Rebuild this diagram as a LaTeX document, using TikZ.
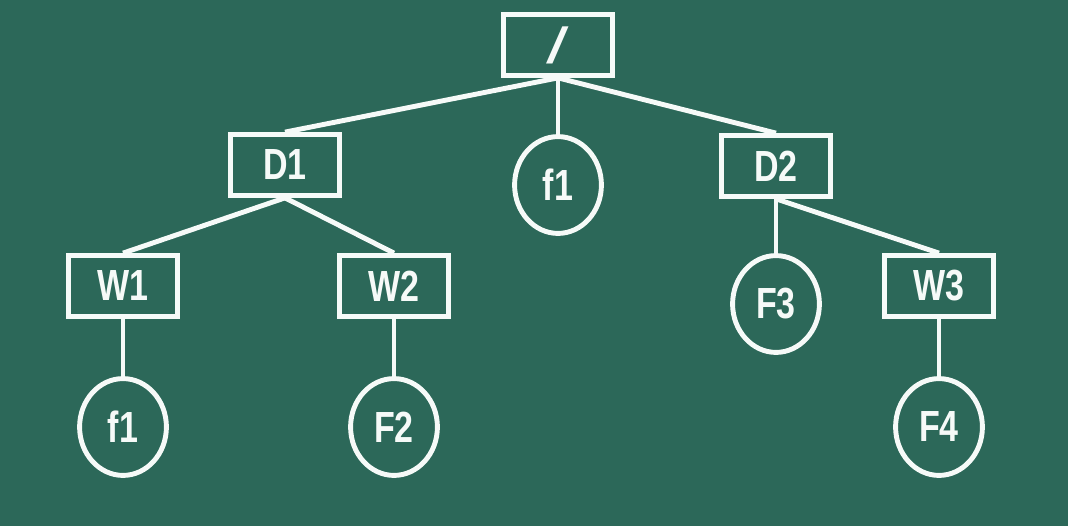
\documentclass[tikz,border=0pt]{standalone}
\usepackage{fontspec}
\setmainfont[FakeStretch=0.78]{Liberation Sans}
\usetikzlibrary{shapes.geometric}
\definecolor{board}{RGB}{44,104,89}
\definecolor{chalk}{RGB}{246,250,248}
\tikzset{
  dirbox/.style={draw=chalk, line width=3.5pt, rectangle, minimum width=2.72cm, minimum height=1.52cm, inner sep=0pt, text=chalk, font=\fontsize{31}{32}\selectfont\bfseries},
  filenode/.style={draw=chalk, line width=3.5pt, ellipse, minimum width=2.17cm, minimum height=2.42cm, inner sep=0pt, text=chalk, font=\fontsize{31}{32}\selectfont\bfseries},
  link/.style={draw=chalk, line width=3.5pt}
}
\begin{document}
\begin{tikzpicture}[x=0.025cm, y=-0.025cm]
        \fill[board] (0,0) rectangle (1068,526);
        \useasboundingbox (0,0) rectangle (1068,526);

        \node[dirbox] (root) at (558,45) {\addfontfeatures{FakeStretch=1.6}\mdseries\fontsize{36}{36}\selectfont /};
        \node[dirbox] (D1) at (285,165) {D1};
        \node[filenode] (f1a) at (558,185) {f1};
        \node[dirbox] (D2) at (776,166) {D2};

        \node[dirbox] (W1) at (123,286) {W1};
        \node[dirbox] (W2) at (394,286) {W2};
        \node[filenode] (F3) at (776,304) {F3};
        \node[dirbox] (W3) at (939,286) {W3};

        \node[filenode] (f1b) at (123,427) {f1};
        \node[filenode] (F2) at (394,427) {F2};
        \node[filenode] (F4) at (939,427) {F4};

        \draw[link] (root.south) -- (D1.north);
        \draw[link] (root.south) -- (f1a.north);
        \draw[link] (root.south) -- (D2.north);

        \draw[link] (D1.south) -- (W1.north);
        \draw[link] (D1.south) -- (W2.north);
        \draw[link] (D2.south) -- (F3.north);
        \draw[link] (D2.south) -- (W3.north);

        \draw[link] (W1.south) -- (f1b.north);
        \draw[link] (W2.south) -- (F2.north);
        \draw[link] (W3.south) -- (F4.north);
\end{tikzpicture}
\end{document}
